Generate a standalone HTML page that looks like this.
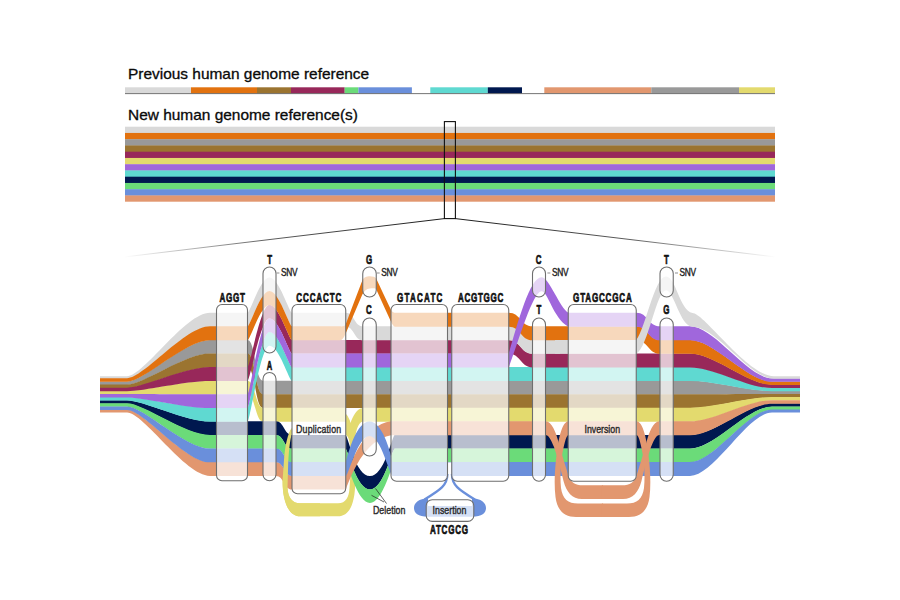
<!DOCTYPE html>
<html><head><meta charset="utf-8"><title>Pangenome reference</title>
<style>
html,body{margin:0;padding:0;background:#fff;}
body{width:900px;height:600px;overflow:hidden;position:relative;font-family:"Liberation Sans",sans-serif;}
svg{position:absolute;left:0;top:0;}
svg text{font-family:"Liberation Sans",sans-serif;}
.t{position:absolute;left:128px;font-size:14.2px;color:#0a0a0a;white-space:nowrap;line-height:1;transform-origin:0 0;transform:scaleX(1.088);-webkit-text-stroke:0.3px #0a0a0a;}
</style></head><body>
<svg width="900" height="600" viewBox="0 0 900 600">
<rect x="125" y="87.3" width="66" height="6.2" fill="#d9d9d9"/>
<rect x="191" y="87.3" width="66" height="6.2" fill="#e2720f"/>
<rect x="257" y="87.3" width="34" height="6.2" fill="#9b7430"/>
<rect x="291" y="87.3" width="53.7" height="6.2" fill="#98285a"/>
<rect x="344.7" y="87.3" width="13.7" height="6.2" fill="#6bdb79"/>
<rect x="358.4" y="87.3" width="53.5" height="6.2" fill="#6a8fdb"/>
<rect x="430.3" y="87.3" width="57.5" height="6.2" fill="#5fd9d1"/>
<rect x="487.8" y="87.3" width="34.2" height="6.2" fill="#00184f"/>
<rect x="544.3" y="87.3" width="107" height="6.2" fill="#e2976f"/>
<rect x="651.3" y="87.3" width="87.7" height="6.2" fill="#999999"/>
<rect x="739" y="87.3" width="36" height="6.2" fill="#e3da6e"/>
<rect x="125" y="93.2" width="650" height="0.9" fill="#666"/>
<rect x="125" y="126.7" width="650" height="6.55" fill="#d9d9d9"/>
<rect x="125" y="132.95" width="650" height="6.55" fill="#e2720f"/>
<rect x="125" y="139.2" width="650" height="6.55" fill="#999999"/>
<rect x="125" y="145.45" width="650" height="6.55" fill="#9b7430"/>
<rect x="125" y="151.7" width="650" height="6.55" fill="#98285a"/>
<rect x="125" y="157.95" width="650" height="6.55" fill="#e3da6e"/>
<rect x="125" y="164.2" width="650" height="6.55" fill="#a067dc"/>
<rect x="125" y="170.45" width="650" height="6.55" fill="#5fd9d1"/>
<rect x="125" y="176.7" width="650" height="6.55" fill="#00184f"/>
<rect x="125" y="182.95" width="650" height="6.55" fill="#6bdb79"/>
<rect x="125" y="189.2" width="650" height="6.55" fill="#6a8fdb"/>
<rect x="125" y="195.45" width="650" height="6.25" fill="#e2976f"/>
<defs><linearGradient id="gl" x1="444" y1="0" x2="124" y2="0" gradientUnits="userSpaceOnUse"><stop offset="0" stop-color="#000"/><stop offset="0.55" stop-color="#000" stop-opacity="0.7"/><stop offset="1" stop-color="#000" stop-opacity="0"/></linearGradient><linearGradient id="gr" x1="456" y1="0" x2="776" y2="0" gradientUnits="userSpaceOnUse"><stop offset="0" stop-color="#000"/><stop offset="0.55" stop-color="#000" stop-opacity="0.7"/><stop offset="1" stop-color="#000" stop-opacity="0"/></linearGradient></defs>
<rect x="444.4" y="121.6" width="11" height="97" fill="none" stroke="#111" stroke-width="1.1"/>
<path d="M444.4,218.6L124,257" stroke="url(#gl)" stroke-width="0.9" fill="none"/>
<path d="M455.4,218.6L776,257" stroke="url(#gr)" stroke-width="0.9" fill="none"/>
<clipPath id="cl"><rect x="270" y="400" width="50" height="130"/></clipPath>
<path d="M291.8,428 C288,433 285,445 284,460 L282.6,480 C282.3,500 288,516.3 300,516.3 L338,516.3 C350,516.3 355.5,502 355.2,480 L354.5,445 C355,432 358,423 362.75,421.3 L362.75,408 C357,408.5 353,416 350.5,423 C350,420 348,416 346,414 L346,435 C348,436 349.5,440 350,445 L350.8,470 L349.5,488 C349,497 346,503.3 338,503.3 L300,503.3 C292,503.3 288,497 287.5,488 L288,470 C288.5,452 290,440 292,433 Z" fill="#e3da6e"/>
<path d="M100,381.42L127,381.42C143.6,381.42 185.1,339.94 210,339.94L247.5,339.94C255.25,339.94 255.25,380.65 263,380.65L690,380.65C714.6,380.65 747.4,390.78 772,390.78L800,390.78L800,394.3L772,394.3C747.4,394.3 714.6,394.52 690,394.52L263,394.52C255.25,394.52 255.25,353.81 247.5,353.81L210,353.81C185.1,353.81 143.6,384.94 127,384.94L100,384.94Z" fill="#999999" />
<path d="M100,384.54L127,384.54C143.6,384.54 185.1,353.51 210,353.51L247.5,353.51C255.25,353.51 255.25,394.22 263,394.22L690,394.22C714.6,394.22 747.4,393.9 772,393.9L800,393.9L800,397.42L772,397.42C747.4,397.42 714.6,408.09 690,408.09L263,408.09C255.25,408.09 255.25,367.38 247.5,367.38L210,367.38C185.1,367.38 143.6,388.06 127,388.06L100,388.06Z" fill="#9b7430" />
<path d="M100,390.78L127,390.78C143.6,390.78 185.1,380.65 210,380.65L247.5,380.65C255.25,380.65 255.25,407.79 263,407.79L345.75,407.79L345.75,421.66L263,421.66C255.25,421.66 255.25,394.52 247.5,394.52L210,394.52C185.1,394.52 143.6,394.3 127,394.3L100,394.3Z" fill="#e3da6e" />
<path d="M362.75,407.79L690,407.79C714.6,407.79 747.4,397.02 772,397.02L800,397.02L800,400.54L772,400.54C747.4,400.54 714.6,421.66 690,421.66L362.75,421.66Z" fill="#e3da6e" />
<path d="M100,400.14L127,400.14C143.6,400.14 185.1,421.36 210,421.36L276,421.36C284,421.36 284,434.93 292,434.93L345.75,434.93C349,440 356,476 370,476C384,476 391,440 394.5,434.93L690,434.93C714.6,434.93 747.4,403.26 772,403.26L800,403.26L800,406.78L772,406.78C747.4,406.78 714.6,448.8 690,448.8L394.5,448.8C390.5,455 383,489.6 370,489.6C357,489.6 349.5,455 345.75,448.8L292,448.8C284,448.8 284,435.23 276,435.23L210,435.23C185.1,435.23 143.6,403.66 127,403.66L100,403.66Z" fill="#00184f" />
<path d="M100,403.26L127,403.26C143.6,403.26 185.1,434.93 210,434.93L276,434.93C284,434.93 284,448.5 292,448.5L345.75,448.5C349.5,455 357,489.3 370,489.3C383,489.3 390.5,455 394.5,448.5L690,448.5C714.6,448.5 747.4,406.38 772,406.38L800,406.38L800,409.9L772,409.9C747.4,409.9 714.6,462.37 690,462.37L394.5,462.37C390,470 382,503 370,503C358,503 350,470 345.75,462.37L292,462.37C284,462.37 284,448.8 276,448.8L210,448.8C185.1,448.8 143.6,406.78 127,406.78L100,406.78Z" fill="#6bdb79" />
<path d="M100,409.5L127,409.5C143.6,409.5 185.1,462.07 210,462.07L276,462.07C284,462.07 284,475.64 292,475.64L345.75,475.64C350,466 364,424 391,421.36L545.5,421.36L545.5,435.23L391,435.23C364,440 351,476 345.75,489.51L292,489.51C284,489.51 284,475.94 276,475.94L210,475.94C185.1,475.94 143.6,412.62 127,412.62L100,412.62Z" fill="#e2976f" />
<path d="M568.25,421.36L636.25,421.36L636.25,435.23L568.25,435.23Z" fill="#e2976f" />
<path d="M660,421.36L690,421.36C714.6,421.36 747.4,400.14 772,400.14L800,400.14L800,403.66L772,403.66C747.4,403.66 714.6,435.23 690,435.23L660,435.23Z" fill="#e2976f" />
<path d="M100,406.38L127,406.38C143.6,406.38 185.1,448.5 210,448.5L276,448.5C284,448.5 284,462.07 292,462.07L345.75,462.07C349,450 357,421.5 369.5,421.5C382,421.5 390,450 392.5,462.07L690,462.07C714.6,462.07 747.4,409.5 772,409.5L800,409.5L800,412.62L772,412.62C747.4,412.62 714.6,475.94 690,475.94L392.5,475.94C389.74,475.94 381,436.1 369.5,436.1C357.62,436.1 348.6,475.94 345.75,475.94L292,475.94C284,475.94 284,462.37 276,462.37L210,462.37C185.1,462.37 143.6,409.9 127,409.9L100,409.9Z" fill="#6a8fdb" />
<path d="M291.8,428 C288,433 285,445 284,460 L282.6,480 C282.3,500 288,516.3 300,516.3 L338,516.3 C350,516.3 355.5,502 355.2,480 L354.5,445 C355,432 358,423 362.75,421.3 L362.75,408 C357,408.5 353,416 350.5,423 C350,420 348,416 346,414 L346,435 C348,436 349.5,440 350,445 L350.8,470 L349.5,488 C349,497 346,503.3 338,503.3 L300,503.3 C292,503.3 288,497 287.5,488 L288,470 C288.5,452 290,440 292,433 Z" fill="#e3da6e" clip-path="url(#cl)"/>
<path d="M568.5,421.36C562.5,421.36 558.5,438 556.8,453C554.6,470 554,485 555.5,497C557,510 564,517 576,517L603.1,517L603.1,503.5L578,503.5C568,503.5 562.5,499 561,488C560,478 560.5,466 562,456C563.5,447 566,434.93 568.5,434.93Z" fill="#e2976f"/>
<path d="M545.5,421.36C552,421.36 556,433 558.5,442C562,455 565.5,466 568.5,476C570.5,482 575,485.3 583,485.3L603.1,485.3L603.1,499L582,499C572,499 566.5,492 563.5,481C561,470 557.5,457 554,447C551,439.5 548.5,434.93 545.5,434.93Z" fill="#e2976f"/>
<path d="M636.5,421.36C642.5,421.36 646.5,438 648.2,453C650.4,470 651,485 649.5,497C648,510 641,517 629,517L601.9,517L601.9,503.5L627,503.5C637,503.5 642.5,499 644,488C645,478 644.5,466 643,456C641.5,447 639,434.93 636.5,434.93Z" fill="#e2976f"/>
<path d="M659.5,421.36C653,421.36 649,433 646.5,442C643,455 639.5,466 636.5,476C634.5,482 630,485.3 622,485.3L601.9,485.3L601.9,499L623,499C633,499 638.5,492 641.5,481C644,470 647.5,457 651,447C654,439.5 656.5,434.93 659.5,434.93Z" fill="#e2976f"/>
<rect x="447.6" y="462.37" width="4.1" height="22" fill="#fff"/>
<path d="M447.4,474 C447.4,485 441,489.5 424.5,499.5" stroke="#6a8fdb" stroke-width="2.3" fill="none"/>
<path d="M451.9,474 C451.9,485 458.3,489.5 474.8,499.5" stroke="#6a8fdb" stroke-width="2.3" fill="none"/>
<path d="M428,498.3 C419,498.5 414,503 414,508 C414,513 418,516.7 428,516.7 L472,516.7 C482,516.7 486,513 486,508 C486,503 481,498.5 472,498.3 L472,506 L428,506 Z" fill="#6a8fdb"/>
<path d="M100,397.02L127,397.02C143.6,397.02 185.1,407.79 210,407.79L247.5,407.79C250.14,407.79 260.26,331.78 269.5,331.78C278.95,331.78 289.3,367.08 292,367.08L690,367.08C714.6,367.08 747.4,387.66 772,387.66L800,387.66L800,391.18L772,391.18C747.4,391.18 714.6,380.95 690,380.95L292,380.95C289.3,380.95 278.95,345.65 269.5,345.65C260.26,345.65 250.14,421.66 247.5,421.66L210,421.66C185.1,421.66 143.6,400.54 127,400.54L100,400.54Z" fill="#5fd9d1" />
<path d="M100,387.66L127,387.66C143.6,387.66 185.1,367.08 210,367.08L247.5,367.08C250.14,367.08 260.26,304.64 269.5,304.64C278.95,304.64 289.3,339.94 292,339.94L508.75,339.94C520.62,339.94 520.62,353.51 532.5,353.51L690,353.51C714.6,353.51 747.4,384.54 772,384.54L800,384.54L800,388.06L772,388.06C747.4,388.06 714.6,367.38 690,367.38L532.5,367.38C520.62,367.38 520.62,353.81 508.75,353.81L292,353.81C289.3,353.81 278.95,318.51 269.5,318.51C260.26,318.51 250.14,380.95 247.5,380.95L210,380.95C185.1,380.95 143.6,391.18 127,391.18L100,391.18Z" fill="#98285a" />
<path d="M100,376.3L127,376.3C143.6,376.3 185.1,312.8 210,312.8L247.5,312.8C250.14,312.8 260.26,277.5 269.5,277.5C278.95,277.5 289.3,312.8 292,312.8L345.75,312.8C354.25,312.8 354.25,326.37 362.75,326.37L508.75,326.37C520.62,326.37 520.62,339.94 532.5,339.94L560,339.94L560,353.81L532.5,353.81C520.62,353.81 520.62,340.24 508.75,340.24L362.75,340.24C354.25,340.24 354.25,326.67 345.75,326.67L292,326.67C289.3,326.67 278.95,291.37 269.5,291.37C260.26,291.37 250.14,326.67 247.5,326.67L210,326.67C185.1,326.67 143.6,378.7 127,378.7L100,378.7Z" fill="#d9d9d9" />
<path d="M100,378.3L127,378.3C143.6,378.3 185.1,326.37 210,326.37L247.5,326.37C250.14,326.37 260.26,291.07 269.5,291.07C278.95,291.07 289.3,326.37 292,326.37L340,326.37C343,326.4 344.8,326.6 345.8,324C351.3,309.6 356.7,295.2 362.2,280.8C363.6,277.1 366.5,276.2 369.9,276.2C372.5,276.2 375.5,277 376.2,278.5C380.9,288.4 385.5,298.4 390.2,308.3C392,312.1 393.5,312.8 395,312.8L508.75,312.8C520.62,312.8 520.62,326.37 532.5,326.37L636.25,326.37C648.12,326.37 648.12,339.94 660,339.94L690,339.94C714.6,339.94 747.4,381.42 772,381.42L800,381.42L800,384.94L772,384.94C747.4,384.94 714.6,353.81 690,353.81L660,353.81C648.12,353.81 648.12,340.24 636.25,340.24L532.5,340.24C520.62,340.24 520.62,326.67 508.75,326.67L395,326.67C393.5,326.67 392,324 390.2,320C385.5,309.7 380.9,299.5 376.2,289.2C375.6,287.9 372.5,288.4 369.9,288.4C366.5,288.4 363.6,291.5 362.2,294.8C356.7,307.6 351.3,320.5 345.8,333.3C344.8,335.6 343,340.2 340,340.24L292,340.24C289.3,340.24 278.95,304.94 269.5,304.94C260.26,304.94 250.14,340.24 247.5,340.24L210,340.24C185.1,340.24 143.6,381.82 127,381.82L100,381.82Z" fill="#e2720f" />
<path d="M100,393.9L127,393.9C143.6,393.9 185.1,394.22 210,394.22L247.5,394.22C250.14,394.22 260.26,318.21 269.5,318.21C278.95,318.21 289.3,353.51 292,353.51L508.75,353.51C518,322 530,277.3 541.5,277.3C549,277.3 560,308 568.25,312.8L636.25,312.8C648.12,312.8 648.12,326.37 660,326.37L690,326.37C714.6,326.37 747.4,378.3 772,378.3L800,378.3L800,381.82L772,381.82C747.4,381.82 714.6,340.24 690,340.24L660,340.24C648.12,340.24 648.12,326.67 636.25,326.67L568.25,326.67C553,318 548,291.27 541.5,291.27C533,291.27 519,340 508.75,367.38L292,367.38C289.3,367.38 278.95,332.08 269.5,332.08C260.26,332.08 250.14,408.09 247.5,408.09L210,408.09C185.1,408.09 143.6,397.42 127,397.42L100,397.42Z" fill="#a067dc" />
<path d="M555,339.94L636.25,339.94C645,330 654.5,276.6 666,276.6C676,276.6 679.5,311 692.5,313C704,313 748,376.3 774,376.3L800,376.3L800,378.7L774,378.7C749.55,378.7 716.95,326.67 692.5,326.67C680,326.67 674,290.37 666,290.37C656.5,290.37 648,348 636.25,353.81L555,353.81Z" fill="#d9d9d9" />
<rect x="216.5" y="304.5" width="31" height="176.2" rx="5.5" ry="5.5" fill="#ffffff" fill-opacity="0.72" stroke="#6e6e6e" stroke-width="1.1"/>
<rect x="292" y="304.5" width="53.75" height="189.3" rx="5.5" ry="5.5" fill="#ffffff" fill-opacity="0.72" stroke="#6e6e6e" stroke-width="1.1"/>
<rect x="391" y="304.5" width="56.5" height="176.7" rx="5.5" ry="5.5" fill="#ffffff" fill-opacity="0.72" stroke="#6e6e6e" stroke-width="1.1"/>
<rect x="451.75" y="304.5" width="57" height="176.7" rx="5.5" ry="5.5" fill="#ffffff" fill-opacity="0.72" stroke="#6e6e6e" stroke-width="1.1"/>
<rect x="568.25" y="304.5" width="68" height="176.7" rx="5.5" ry="5.5" fill="#ffffff" fill-opacity="0.72" stroke="#6e6e6e" stroke-width="1.1"/>
<rect x="263" y="267" width="13" height="86" rx="6.5" ry="6.5" fill="#ffffff" fill-opacity="0.72" stroke="#6e6e6e" stroke-width="1.1"/>
<rect x="263" y="372.5" width="13" height="108.2" rx="6.5" ry="6.5" fill="#ffffff" fill-opacity="0.72" stroke="#6e6e6e" stroke-width="1.1"/>
<rect x="362.75" y="267" width="13.5" height="30" rx="6.7" ry="6.7" fill="#ffffff" fill-opacity="0.72" stroke="#6e6e6e" stroke-width="1.1"/>
<rect x="362.75" y="318" width="13.5" height="138" rx="6.7" ry="6.7" fill="#ffffff" fill-opacity="0.72" stroke="#6e6e6e" stroke-width="1.1"/>
<rect x="532.5" y="267" width="13" height="30" rx="6.5" ry="6.5" fill="#ffffff" fill-opacity="0.72" stroke="#6e6e6e" stroke-width="1.1"/>
<rect x="532.5" y="318" width="13" height="163.2" rx="6.5" ry="6.5" fill="#ffffff" fill-opacity="0.72" stroke="#6e6e6e" stroke-width="1.1"/>
<rect x="660" y="267" width="13.25" height="30" rx="6.6" ry="6.6" fill="#ffffff" fill-opacity="0.72" stroke="#6e6e6e" stroke-width="1.1"/>
<rect x="660" y="318" width="13.25" height="163.2" rx="6.6" ry="6.6" fill="#ffffff" fill-opacity="0.72" stroke="#6e6e6e" stroke-width="1.1"/>
<rect x="426.2" y="499.7" width="47.6" height="21.7" rx="6" ry="6" fill="#ffffff" fill-opacity="0.72" stroke="#6e6e6e" stroke-width="1.1"/>
<text transform="translate(269.7,263.8) scale(0.6,1)" font-size="13.2" font-weight="bold" text-anchor="middle" fill="#111"  stroke="#111" stroke-width="0.7" stroke-linejoin="round">T</text>
<text transform="translate(369.2,263.8) scale(0.6,1)" font-size="13.2" font-weight="bold" text-anchor="middle" fill="#111"  stroke="#111" stroke-width="0.7" stroke-linejoin="round">G</text>
<text transform="translate(538.7,263.8) scale(0.6,1)" font-size="13.2" font-weight="bold" text-anchor="middle" fill="#111"  stroke="#111" stroke-width="0.7" stroke-linejoin="round">C</text>
<text transform="translate(666.4,263.8) scale(0.6,1)" font-size="13.2" font-weight="bold" text-anchor="middle" fill="#111"  stroke="#111" stroke-width="0.7" stroke-linejoin="round">T</text>
<text transform="translate(269.5,370.3) scale(0.6,1)" font-size="12.6" font-weight="bold" text-anchor="middle" fill="#111"  stroke="#111" stroke-width="0.7" stroke-linejoin="round">A</text>
<text transform="translate(368.8,313.8) scale(0.6,1)" font-size="13.2" font-weight="bold" text-anchor="middle" fill="#111"  stroke="#111" stroke-width="0.7" stroke-linejoin="round">C</text>
<text transform="translate(538.8,313.8) scale(0.6,1)" font-size="13.2" font-weight="bold" text-anchor="middle" fill="#111"  stroke="#111" stroke-width="0.7" stroke-linejoin="round">T</text>
<text transform="translate(666.3,313.8) scale(0.6,1)" font-size="13.2" font-weight="bold" text-anchor="middle" fill="#111"  stroke="#111" stroke-width="0.7" stroke-linejoin="round">G</text>
<text transform="translate(281,275.7) scale(0.8,1)" font-size="10.4" font-weight="normal" text-anchor="start" fill="#222" textLength="20.62" lengthAdjust="spacing"  stroke="#222" stroke-width="0.4" stroke-linejoin="round">SNV</text>
<path d="M276.4,273 h3" stroke="#999" stroke-width="1.1"/>
<text transform="translate(381.3,275.7) scale(0.8,1)" font-size="10.4" font-weight="normal" text-anchor="start" fill="#222" textLength="20.62" lengthAdjust="spacing"  stroke="#222" stroke-width="0.4" stroke-linejoin="round">SNV</text>
<path d="M376.7,273 h3" stroke="#999" stroke-width="1.1"/>
<text transform="translate(552,275.7) scale(0.8,1)" font-size="10.4" font-weight="normal" text-anchor="start" fill="#222" textLength="20.62" lengthAdjust="spacing"  stroke="#222" stroke-width="0.4" stroke-linejoin="round">SNV</text>
<path d="M547.4,273 h3" stroke="#999" stroke-width="1.1"/>
<text transform="translate(679.6,275.7) scale(0.8,1)" font-size="10.4" font-weight="normal" text-anchor="start" fill="#222" textLength="20.62" lengthAdjust="spacing"  stroke="#222" stroke-width="0.4" stroke-linejoin="round">SNV</text>
<path d="M675,273 h3" stroke="#999" stroke-width="1.1"/>
<text transform="translate(232.2,301.8) scale(0.64,1)" font-size="12.6" font-weight="bold" text-anchor="middle" fill="#111" textLength="39.84" lengthAdjust="spacing"  stroke="#111" stroke-width="0.7" stroke-linejoin="round">AGGT</text>
<text transform="translate(318.8,301.8) scale(0.64,1)" font-size="12.6" font-weight="bold" text-anchor="middle" fill="#111" textLength="70.31" lengthAdjust="spacing"  stroke="#111" stroke-width="0.7" stroke-linejoin="round">CCCACTC</text>
<text transform="translate(419.7,301.8) scale(0.64,1)" font-size="12.6" font-weight="bold" text-anchor="middle" fill="#111" textLength="71.09" lengthAdjust="spacing"  stroke="#111" stroke-width="0.7" stroke-linejoin="round">GTACATC</text>
<text transform="translate(480.6,301.8) scale(0.64,1)" font-size="12.6" font-weight="bold" text-anchor="middle" fill="#111" textLength="70.78" lengthAdjust="spacing"  stroke="#111" stroke-width="0.7" stroke-linejoin="round">ACGTGGC</text>
<text transform="translate(602.4,301.8) scale(0.64,1)" font-size="12.6" font-weight="bold" text-anchor="middle" fill="#111" textLength="91.72" lengthAdjust="spacing"  stroke="#111" stroke-width="0.7" stroke-linejoin="round">GTAGCCGCA</text>
<text transform="translate(449,534) scale(0.64,1)" font-size="12.6" font-weight="bold" text-anchor="middle" fill="#111" textLength="59.38" lengthAdjust="spacing"  stroke="#111" stroke-width="0.7" stroke-linejoin="round">ATCGCG</text>
<text transform="translate(318.6,432.6) scale(0.8,1)" font-size="11" font-weight="normal" text-anchor="middle" fill="#2a2a2a" textLength="56.25" lengthAdjust="spacing"  stroke="#2a2a2a" stroke-width="0.4" stroke-linejoin="round">Duplication</text>
<text transform="translate(389.2,513.9) scale(0.8,1)" font-size="11" font-weight="normal" text-anchor="middle" fill="#2a2a2a" textLength="40.62" lengthAdjust="spacing"  stroke="#2a2a2a" stroke-width="0.4" stroke-linejoin="round">Deletion</text>
<text transform="translate(449.5,513.9) scale(0.8,1)" font-size="11" font-weight="normal" text-anchor="middle" fill="#2a2a2a" textLength="42.25" lengthAdjust="spacing"  stroke="#2a2a2a" stroke-width="0.4" stroke-linejoin="round">Insertion</text>
<text transform="translate(602.3,433) scale(0.8,1)" font-size="11" font-weight="normal" text-anchor="middle" fill="#2a2a2a" textLength="44.38" lengthAdjust="spacing"  stroke="#2a2a2a" stroke-width="0.4" stroke-linejoin="round">Inversion</text>
<path d="M386.5,503.5 L375.5,488.5 M384,502 L371.5,495.3" stroke="#222" stroke-width="0.7" fill="none"/>
</svg>
<div class="t" style="top:66.5px">Previous human genome reference</div>
<div class="t" style="top:108px">New human genome reference(s)</div>
</body></html>
